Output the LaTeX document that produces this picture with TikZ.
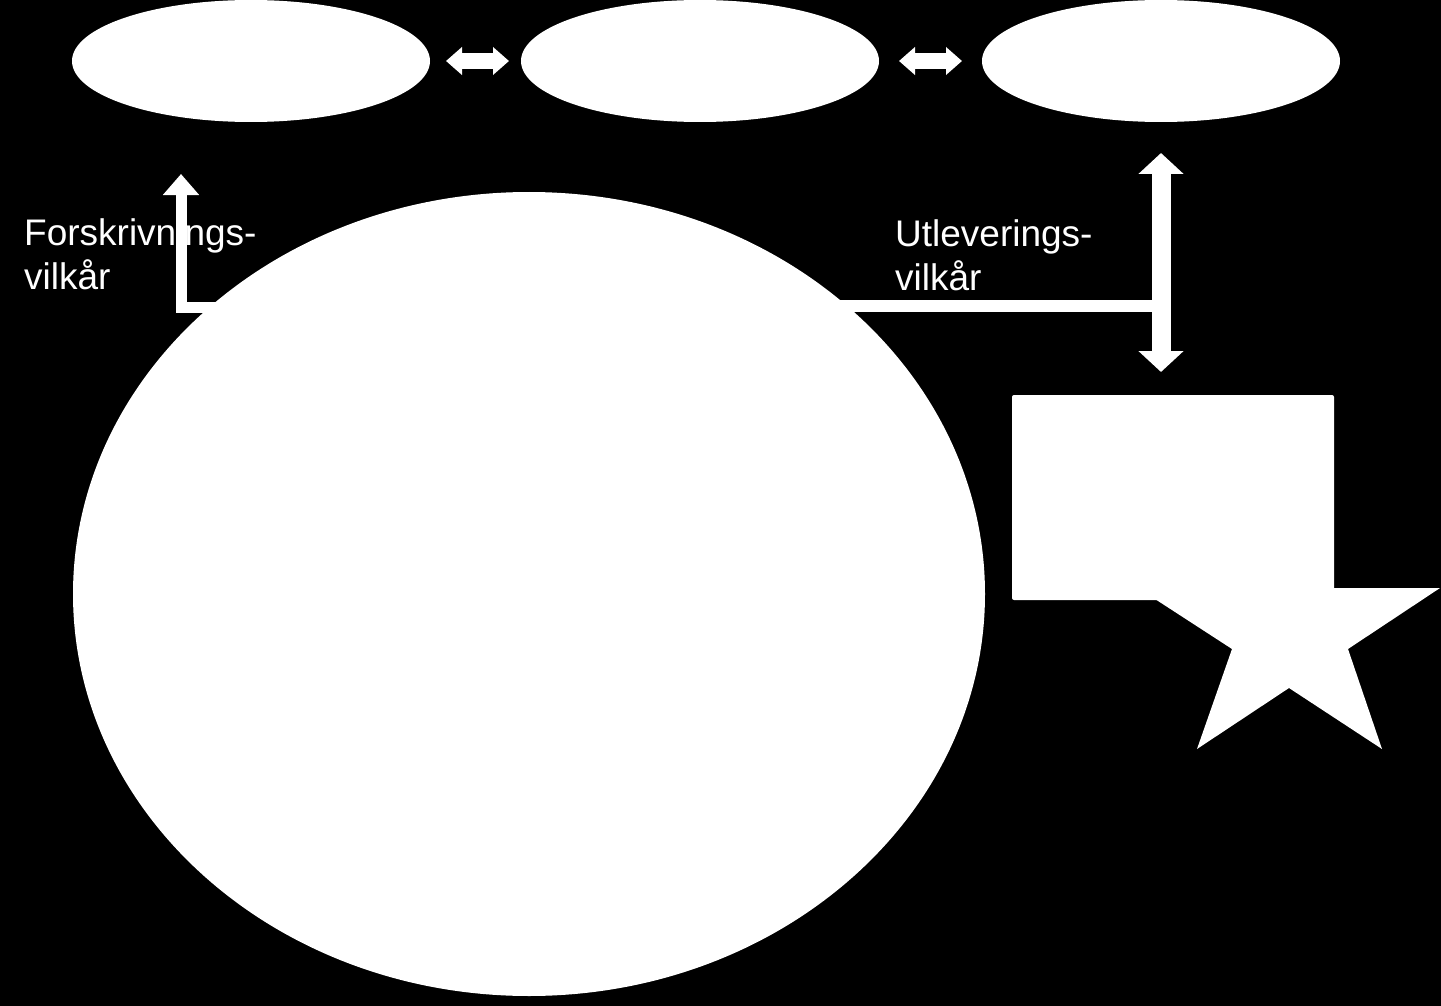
\documentclass[tikz,border=0pt]{standalone}
\usepackage{fontspec}
\setmainfont{Liberation Sans}
\usetikzlibrary{shapes.geometric,arrows.meta,calc}
\tikzset{
  oval/.style={ellipse, fill=white, draw=none, inner sep=0pt, outer sep=0pt},
  lbl/.style={text=white, anchor=north west, inner sep=0pt, align=left,
              font=\fontsize{37}{44}\selectfont},
  dblsmall/.style={white, line width=16pt,
     {Triangle[width=27pt,length=16pt]}-{Triangle[width=27pt,length=16pt]}},
  elbow/.style={white, line width=11pt, line join=miter,
     -{Triangle[width=35pt,length=21pt]}},
  bar/.style={white, line width=12pt},
  dblbig/.style={white, line width=19pt,
     {Triangle[width=44pt,length=21pt]}-{Triangle[width=44pt,length=21pt]}},
  boxw/.style={rectangle, fill=white, draw=none, inner sep=0pt,
     rounded corners=2pt, minimum width=322pt, minimum height=205pt}
}
\begin{document}
\begin{tikzpicture}[x=1pt,y=-1pt]
\useasboundingbox (0,0) rectangle (1441,1006);
\fill[black] (0,0) rectangle (1441,1006);

% labels
\node[lbl] (lf) at (24,218) {Forskrivnings-\\vilkår};
\node[lbl] (lu) at (895,219) {Utleverings-\\vilkår};

% named points
\coordinate (lj) at (181,307.5);
\coordinate (ltip) at (181,174);
\coordinate (rj) at (1161,305.5);
\coordinate (utop) at (1161,153);
\coordinate (ubot) at (1161,372);
\coordinate (bigc) at (529,594);

% connectors from the big ellipse (drawn below it)
\draw[elbow] (bigc |- lj) -- (lj) -- (ltip);
\draw[bar] (bigc |- rj) -- (rj);
\draw[dblbig] (utop) -- (ubot);

% big ellipse
\node[oval, minimum width=912pt, minimum height=804pt] (big) at (bigc) {};

% top ellipses
\node[oval, minimum width=358pt, minimum height=122pt] (e1) at (251,61) {};
\node[oval, minimum width=358pt, minimum height=122pt] (e2) at (700,61) {};
\node[oval, minimum width=358pt, minimum height=122pt] (e3) at (1161,61) {};

\draw[dblsmall, shorten <=16pt, shorten >=12pt] (e1.east) -- (e2.west);
\draw[dblsmall, shorten <=20pt, shorten >=20pt] (e2.east) -- (e3.west);

% box and star
\node[boxw] (box) at (1173,497.5) {};
\fill[white] (1289,471) -- (1325,588) -- (1440,588) -- (1348,649)
  -- (1382,749) -- (1289,688) -- (1197,749) -- (1232,649)
  -- (1138,588) -- (1253,588) -- cycle;
\end{tikzpicture}
\end{document}
